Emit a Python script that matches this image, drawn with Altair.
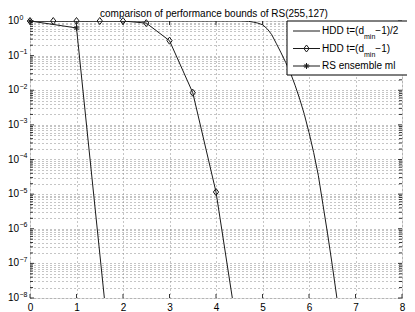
import altair as alt
import pandas as pd

# ---------------- data ----------------
title_text = "comparison of performance bounds of RS(255,127)"

# HDD t=(dmin-1)/2  (line only)
hdd_half_x = [0, 1, 2, 3, 4, 4.5, 4.6, 4.7, 4.8, 4.9, 5.0, 5.1, 5.2, 5.3, 5.4,
              5.5, 5.6, 5.7, 5.8, 5.9, 6.0, 6.1, 6.2, 6.3, 6.4, 6.5, 6.6, 6.7]
hdd_half_y = [1, 1, 1, 1, 1, 1.0, 0.993, 0.977, 0.93, 0.87, 0.78, 0.60, 0.40,
              0.22, 0.12, 0.063, 0.032, 0.014, 5.6e-3, 2.0e-3, 6.0e-4, 1.6e-4,
              3.5e-5, 5.0e-6, 7.1e-7, 8.9e-8, 1.0e-8, 1.0e-9]

# HDD t=(dmin-1)  (line + diamonds)
hdd_full_x = [0, 0.5, 1, 1.5, 2, 2.5, 3, 3.5, 4, 4.5]
hdd_full_y = [1, 1, 1, 1, 0.998, 0.87, 0.27, 8.5e-3, 1.15e-5, 5e-10]

# RS ensemble ml  (line + asterisks)
rs_ml_x = [0, 1, 2]
rs_ml_y = [1, 0.63, 6e-14]

x_major = [0, 1, 2, 3, 4, 5, 6, 7, 8]
y_major = [1e0, 1e-1, 1e-2, 1e-3, 1e-4, 1e-5, 1e-6, 1e-7, 1e-8]
y_exp_labels = ["0", "\u22121", "\u22122", "\u22123", "\u22124", "\u22125",
                "\u22126", "\u22127", "\u22128"]
y_minor = [k * 10.0 ** e for e in range(-8, 0) for k in range(2, 10)]

legend_main = ["HDD t=(d", "HDD t=(d", "RS ensemble ml"]
legend_sub = ["min", "min", ""]
legend_tail = ["\u22121)/2", "\u22121)", ""]

# ---------------- style ----------------
W, H = 372, 277
FONT = "Liberation Sans"
LINE = "#1a1a1a"
AX = "#333333"
GRID = "#8a8a8a"
DIAMOND = "M0,-1L0.75,0L0,1L-0.75,0Z"
ASTER = "M-1,0L1,0M0,-1L0,1M-0.7,-0.7L0.7,0.7M-0.7,0.7L0.7,-0.7"

x_scale = alt.Scale(domain=[0, 8], nice=False, zero=False)
y_scale = alt.Scale(type="log", domain=[1e-8, 1], nice=False)
x_axis = alt.Axis(values=x_major, format="d", grid=True, gridDash=[1, 3],
                  gridColor=GRID, gridWidth=1, ticks=False, domain=False,
                  labelFontSize=10, labelFont=FONT, labelColor="black",
                  labelPadding=4, labelFlush=False, title=None)
y_axis = alt.Axis(values=y_major + y_minor, grid=True, gridDash=[1, 3],
                  gridColor=GRID, gridWidth=1, ticks=False, domain=False,
                  labels=False, title=None)
X = alt.X("x:Q", scale=x_scale, axis=x_axis)
Y = alt.Y("y:Q", scale=y_scale, axis=y_axis)

df_half = pd.DataFrame({"x": hdd_half_x, "y": hdd_half_y})
df_full = pd.DataFrame({"x": hdd_full_x, "y": hdd_full_y})
df_rs = pd.DataFrame({"x": rs_ml_x, "y": rs_ml_y})
dummy = pd.DataFrame({"a": [0]})

layers = []

# tick marks (inward, all four sides)
xt = pd.DataFrame({"x": x_major})
ytM = pd.DataFrame({"y": y_major})
ytm = pd.DataFrame({"y": y_minor})
layers.append(alt.Chart(xt).mark_rule(color=AX, strokeWidth=1).encode(
    x=X, y=alt.value(H - 4), y2=alt.value(H)))
layers.append(alt.Chart(xt).mark_rule(color=AX, strokeWidth=1).encode(
    x=X, y=alt.value(0), y2=alt.value(4)))
for df, ln in ((ytM, 4), (ytm, 3)):
    layers.append(alt.Chart(df).mark_rule(color=AX, strokeWidth=1).encode(
        y=Y, x=alt.value(0), x2=alt.value(ln)))
    layers.append(alt.Chart(df).mark_rule(color=AX, strokeWidth=1).encode(
        y=Y, x=alt.value(W - ln), x2=alt.value(W)))

# curves
layers.append(alt.Chart(df_half).mark_line(clip=True, color=LINE, strokeWidth=1).encode(x=X, y=Y))
layers.append(alt.Chart(df_full).mark_line(clip=True, color=LINE, strokeWidth=1).encode(x=X, y=Y))
layers.append(alt.Chart(df_full).transform_filter("datum.y >= 1e-8").mark_point(
    shape=DIAMOND, size=49, filled=False, color=LINE, strokeWidth=1, opacity=1).encode(x=X, y=Y))
layers.append(alt.Chart(df_rs).mark_line(clip=True, color=LINE, strokeWidth=1).encode(x=X, y=Y))
layers.append(alt.Chart(df_rs).transform_filter("datum.y >= 1e-8").mark_point(
    shape=ASTER, size=36, filled=False, color=LINE, strokeWidth=1, opacity=1).encode(x=X, y=Y))

# y tick labels 10^k
ylab = pd.DataFrame({"y": y_major, "exp": y_exp_labels})
layers.append(alt.Chart(ylab).mark_text(text="10", align="right", baseline="middle",
                                        fontSize=10, font=FONT, color="black").encode(
    y=Y, x=alt.value(-11)))
layers.append(alt.Chart(ylab).mark_text(align="left", baseline="middle", dy=-3.5,
                                        fontSize=7, font=FONT, color="black").encode(
    y=Y, x=alt.value(-10.5), text="exp:N"))

# title
layers.append(alt.Chart(dummy).mark_text(text=title_text, align="center", baseline="alphabetic",
                                         fontSize=10, font=FONT, color="black").encode(
    x=alt.value(184), y=alt.value(-4)))

# legend
LX0, LX1, LY0, LY1 = 257, 400, 0, 54
TX = 292
layers.append(alt.Chart(dummy).mark_rect(fill="white", stroke="black", strokeWidth=1).encode(
    x=alt.value(LX0), x2=alt.value(LX1), y=alt.value(LY0), y2=alt.value(LY1)))
markers = [None, DIAMOND, ASTER]
msizes = [0, 49, 36]
for i in range(3):
    ey = 10 + 17.5 * i
    layers.append(alt.Chart(dummy).mark_rule(color=LINE, strokeWidth=1).encode(
        x=alt.value(LX0 + 6), x2=alt.value(LX0 + 33), y=alt.value(ey)))
    if markers[i]:
        layers.append(alt.Chart(dummy).mark_point(shape=markers[i], size=msizes[i], filled=False,
                                                  color=LINE, strokeWidth=1, opacity=1).encode(
            x=alt.value(LX0 + 19.5), y=alt.value(ey)))
    layers.append(alt.Chart(dummy).mark_text(text=legend_main[i], align="left", baseline="middle",
                                             fontSize=10, font=FONT, color="black").encode(
        x=alt.value(TX), y=alt.value(ey)))
    if legend_sub[i]:
        layers.append(alt.Chart(dummy).mark_text(text=legend_sub[i], align="left", baseline="middle",
                                                 dy=6, fontSize=7, font=FONT, color="black").encode(
            x=alt.value(TX + 42), y=alt.value(ey)))
        layers.append(alt.Chart(dummy).mark_text(text=legend_tail[i], align="left", baseline="middle",
                                                 fontSize=10, font=FONT, color="black").encode(
            x=alt.value(TX + 53.3), y=alt.value(ey)))

chart = alt.layer(*layers).properties(
    width=W, height=H,
    autosize=alt.AutoSizeParams(type="none"),
    padding={"left": 22, "top": 13, "right": 5, "bottom": 14},
).configure_view(stroke=AX, strokeWidth=1).configure(font=FONT)

chart.save("out.html", embed_options={"renderer": "svg", "actions": False})
